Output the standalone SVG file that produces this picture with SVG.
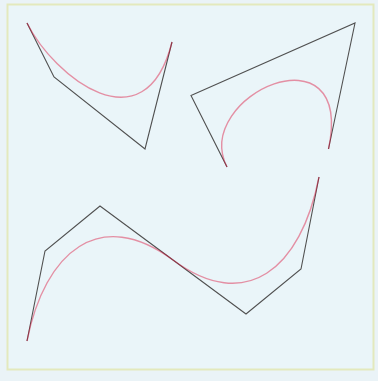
<svg xmlns="http://www.w3.org/2000/svg" width="378" height="381" viewBox="0 0 378 381">
<style>
.poly{fill:none;stroke:#505050;stroke-width:1.1;stroke-linejoin:miter}
.curve{fill:none;stroke:#dc143c;stroke-width:1.4;stroke-opacity:0.45}
</style>
<rect x="0" y="0" width="378" height="381" fill="#eaf3f7"/>
<rect x="7.5" y="4.5" width="366" height="365" fill="#eaf5f9" stroke="#e3e9bd" stroke-width="2"/>
<g id="bezier1">
<polyline class="poly" points="27,23 54,77 145,149 172,42"/>
<path class="curve" d="M27,23 C54,77 145,149 172,42"/>
</g>
<g id="bezier2">
<polyline class="poly" points="227,167 191,95.5 355,23 328.5,149"/>
<path class="curve" d="M227,167 C191,95.5 355,23 328.5,149"/>
</g>
<g id="bezier3">
<polyline class="poly" points="27,341 45,251 100,206 246,314 301,269 319,177"/>
<path class="curve" d="M27,341 C45,251 100,206 173,260 C246,314 301,269 319,177"/>
</g>
</svg>
